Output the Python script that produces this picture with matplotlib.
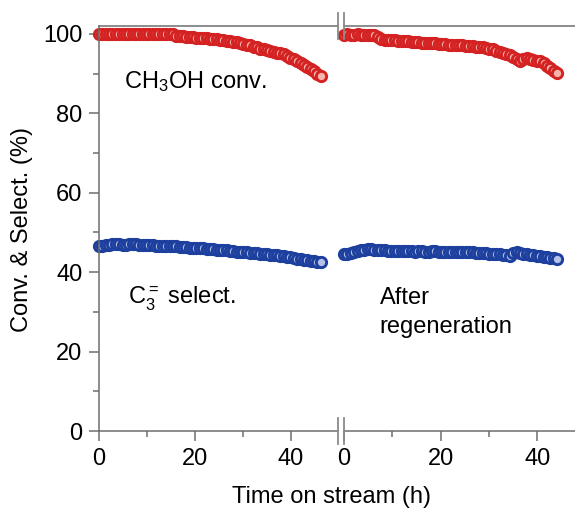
import numpy as np
import matplotlib
matplotlib.use("Agg")
import matplotlib.pyplot as plt
from matplotlib import font_manager as fm
from matplotlib.lines import Line2D
from matplotlib.ticker import MultipleLocator

# keep the regular-width Liberation Sans, not the Narrow cut
fm.fontManager.ttflist = [f for f in fm.fontManager.ttflist if 'Narrow' not in f.fname]
plt.rcParams['font.family'] = ['Liberation Sans', 'DejaVu Sans']
plt.rcParams['mathtext.fontset'] = 'custom'
plt.rcParams['mathtext.rm'] = 'Liberation Sans'
plt.rcParams['mathtext.it'] = 'Liberation Sans'

# sampling interval (h) of the on-stream measurements
STEP = 0.7

# first run
conv_run1 = [100.0, 100.0, 100.1, 100.0, 100.0, 100.0, 100.1, 100.0, 100.0, 100.0,
             100.0, 100.1, 100.0, 100.0, 100.0, 100.0, 100.0, 100.1, 100.0, 100.0,
             100.0, 100.0, 100.0, 99.6, 99.4, 99.4, 99.3, 99.2, 99.2, 99.1,
             99.0, 99.0, 98.9, 98.8, 98.7, 98.6, 98.5, 98.4, 98.3, 98.2,
             98.0, 97.9, 97.7, 97.5, 97.3, 97.1, 96.8, 96.6, 96.3, 96.1,
             95.9, 95.7, 95.5, 95.3, 95.1, 94.9, 94.5, 94.0, 93.6, 93.1,
             92.7, 92.2, 91.7, 91.1, 90.6, 90.0, 89.4]
sel_run1 = [46.6, 46.7, 46.8, 46.9, 47.0, 47.1, 47.2, 46.9, 46.8, 47.1,
            47.0, 47.0, 46.9, 46.9, 46.9, 46.8, 46.8, 46.7, 46.7, 46.7,
            46.6, 46.6, 46.5, 46.5, 46.4, 46.3, 46.3, 46.2, 46.2, 46.1,
            46.0, 46.0, 45.9, 45.8, 45.8, 45.7, 45.6, 45.5, 45.5, 45.4,
            45.3, 45.2, 45.2, 45.1, 45.0, 44.9, 44.9, 44.8, 44.7, 44.6,
            44.5, 44.4, 44.3, 44.2, 44.1, 44.0, 43.8, 43.7, 43.5, 43.4,
            43.2, 43.1, 43.0, 42.8, 42.7, 42.6, 42.6]

# after regeneration
conv_run2 = [99.8, 99.9, 99.8, 99.8, 99.9, 99.8, 99.8, 99.7, 99.8, 99.7,
             99.2, 98.7, 98.5, 98.5, 98.4, 98.4, 98.3, 98.2, 98.2, 98.1,
             98.0, 98.0, 97.9, 97.8, 97.8, 97.7, 97.7, 97.6, 97.5, 97.5,
             97.4, 97.3, 97.3, 97.2, 97.1, 97.1, 97.0, 96.9, 96.9, 96.8,
             96.7, 96.6, 96.5, 96.3, 96.1, 95.8, 95.5, 95.2, 94.9, 94.6,
             94.1, 93.6, 93.1, 93.6, 94.0, 93.8, 93.5, 93.3, 93.1, 92.6,
             91.9, 91.3, 90.7, 90.2]
sel_run2 = [44.6, 44.7, 44.9, 45.1, 45.3, 45.5, 45.7, 45.9, 45.8, 45.6,
            45.5, 45.5, 45.5, 45.4, 45.4, 45.4, 45.3, 45.3, 45.3, 45.3,
            45.3, 45.2, 45.3, 45.3, 45.2, 45.2, 45.3, 45.3, 45.2, 45.2,
            45.1, 45.1, 45.2, 45.2, 45.1, 45.1, 45.0, 45.0, 45.0, 44.9,
            44.9, 44.8, 44.8, 44.7, 44.7, 44.6, 44.5, 44.4, 44.3, 44.1,
            44.9, 45.0, 44.8, 44.7, 44.5, 44.4, 44.2, 44.1, 44.0, 43.9,
            43.8, 43.6, 43.5, 43.3]

RED_EDGE, RED_FACE = '#d42222', '#f5b4ac'
BLUE_EDGE, BLUE_FACE = '#1d3f9e', '#b4c2e8'
SPINE = '#6e6e6e'
FS = 17

W, H = 575, 511
fig = plt.figure(figsize=(W / 100, H / 100), dpi=100)

# axes rectangles in pixels: left panel 99..338, right panel 344..575, y 26..431
y0, y1 = 431, 26
ax1 = fig.add_axes([99 / W, (H - y0) / H, (338 - 99) / W, (y0 - y1) / H])
ax2 = fig.add_axes([344 / W, (H - y0) / H, (W - 344) / W, (y0 - y1) / H])

mk = dict(ls='none', marker='o', ms=7.4, mew=2.1, clip_on=False)
for ax, conv, sel in [(ax1, conv_run1, sel_run1), (ax2, conv_run2, sel_run2)]:
    t_c = np.arange(len(conv)) * STEP
    t_s = np.arange(len(sel)) * STEP
    ax.plot(t_s, sel, mfc=BLUE_FACE, mec=BLUE_EDGE, **mk)
    ax.plot(t_c, conv, mfc=RED_FACE, mec=RED_EDGE, **mk)
    ax.set_ylim(0, 102)
    ax.xaxis.set_major_locator(MultipleLocator(20))
    ax.xaxis.set_minor_locator(MultipleLocator(10))
    ax.yaxis.set_major_locator(MultipleLocator(20))
    ax.yaxis.set_minor_locator(MultipleLocator(10))
    ax.tick_params(which='both', direction='out', colors=SPINE, labelcolor='black',
                   labelsize=FS, width=1.1)
    ax.tick_params(which='major', length=7, pad=5)
    ax.tick_params(which='minor', length=4)
    ax.spines['right'].set_visible(False)
    for s in ('left', 'top', 'bottom'):
        ax.spines[s].set_color(SPINE)
        ax.spines[s].set_linewidth(1.1)

ax1.set_xlim(0, 49.8)
ax2.set_xlim(0, 47.8)
ax2.spines['left'].set_visible(False)
ax2.tick_params(axis='y', which='both', left=False, labelleft=False)

# axis break marks
for xp in (338, 344):
    for yc in (y0, y1):
        fig.add_artist(Line2D([xp / W, xp / W], [(H - yc - 13) / H, (H - yc + 13) / H],
                              color='#8a8a8a', lw=1.3))

ax1.text(5.3, 86.3, 'CH$_3$OH conv.', fontsize=FS, va='baseline')
ax1.text(6.1, 32.0, 'C$_3^=$ select.', fontsize=FS, va='baseline')
ax2.text(7.4, 32.0, 'After', fontsize=FS, va='baseline')
ax2.text(7.4, 24.6, 'regeneration', fontsize=FS, va='baseline')

fig.text(22 / W, 1 - 230 / H, 'Conv. & Select. (%)', rotation=90,
         ha='center', va='center', fontsize=FS)
fig.text(331 / W, 1 - 497 / H, 'Time on stream (h)', ha='center', va='center', fontsize=FS)

fig.savefig('out.png', dpi=100)
